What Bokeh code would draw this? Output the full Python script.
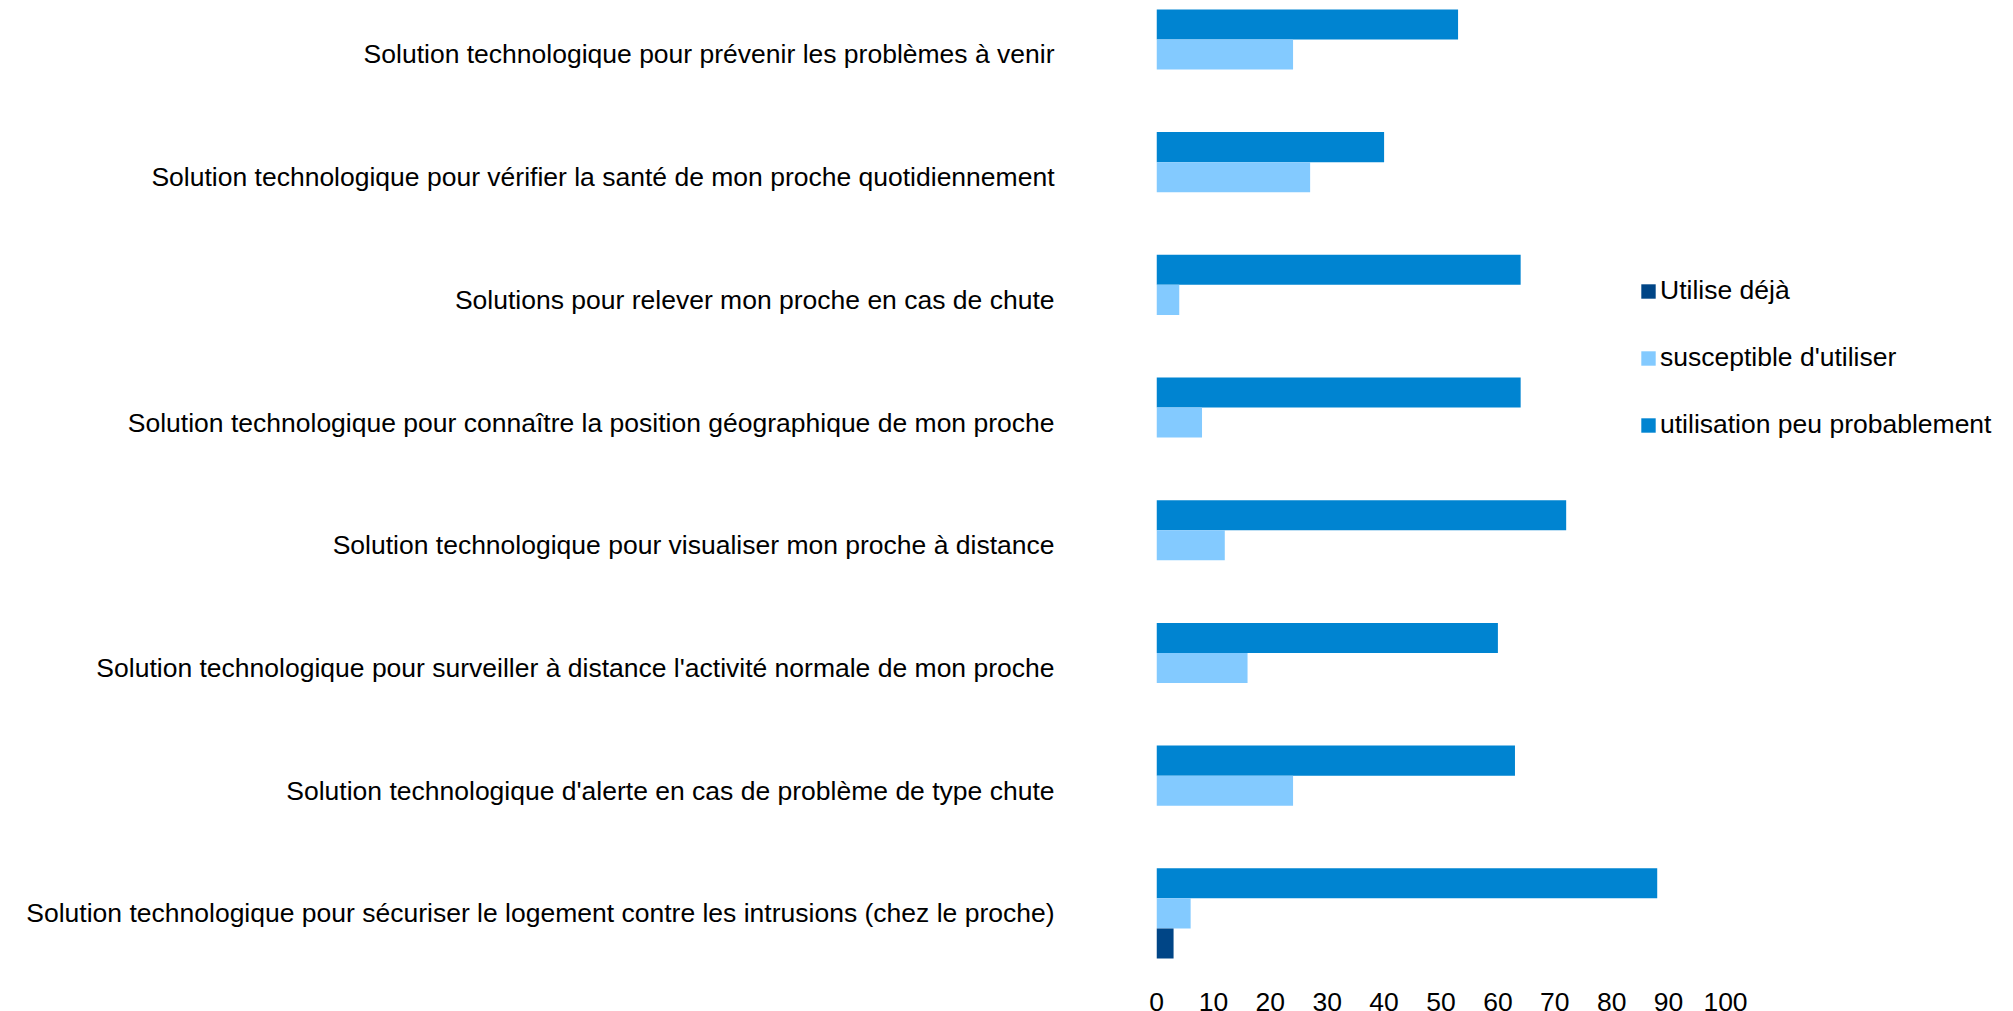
import numpy as np
from bokeh.plotting import figure
from bokeh.models import Range1d, FixedTicker, Legend, LegendItem, ColumnDataSource
from bokeh.transform import dodge
from bokeh.embed import file_html
from bokeh.resources import INLINE

categories = [
    "Solution technologique pour prévenir les problèmes à venir",
    "Solution technologique pour vérifier la santé de mon proche quotidiennement",
    "Solutions pour relever mon proche en cas de chute",
    "Solution technologique pour connaître la position géographique de mon proche",
    "Solution technologique pour visualiser mon proche à distance",
    "Solution technologique pour surveiller à distance l'activité normale de mon proche",
    "Solution technologique d'alerte en cas de problème de type chute",
    "Solution technologique pour sécuriser le logement contre les intrusions (chez le proche)",
]
utilise_deja = [0, 0, 0, 0, 0, 0, 0, 3]
susceptible = [24, 27, 4, 8, 12, 16, 24, 6]
peu_probable = [53, 40, 64, 64, 72, 60, 63, 88]
series_names = ["Utilise déjà", "susceptible d'utiliser", "utilisation peu probablement"]
x_ticks = list(range(0, 101, 10))

colors = ["#004586", "#83CAFF", "#0084D1"]
FONT = "Liberation Sans"
FS = "26.5px"

W = 2005
LEFT = 1156
PX_PER_UNIT = 5.69
BAND_PX = 122.7

pos = list(range(len(categories)))
src = ColumnDataSource(dict(y=pos, deja=utilise_deja, sus=susceptible, peu=peu_probable))

frame_h = 980
frame_w = W - LEFT
y_top = -0.44
y_bot = y_top + frame_h / BAND_PX
x_end = frame_w / PX_PER_UNIT

p = figure(frame_width=frame_w, frame_height=frame_h, output_backend="svg",
           toolbar_location=None,
           x_range=Range1d(0, x_end), y_range=Range1d(y_bot, y_top),
           min_border_left=LEFT, min_border_right=0, min_border_top=0,
           min_border_bottom=0)
p.outline_line_color = None
p.grid.visible = False
p.background_fill_color = "white"
p.border_fill_color = "white"

bh = 0.245
off = 0.0
r_peu = p.hbar(y=dodge("y", off - bh, range=p.y_range), right="peu", left=0, height=bh,
               source=src, fill_color=colors[2], line_color=None)
r_sus = p.hbar(y=dodge("y", off, range=p.y_range), right="sus", left=0, height=bh,
               source=src, fill_color=colors[1], line_color=None)
r_deja = p.hbar(y=dodge("y", off + bh, range=p.y_range), right="deja", left=0, height=bh,
                source=src, fill_color=colors[0], line_color=None)

p.yaxis.ticker = FixedTicker(ticks=pos)
p.yaxis.major_label_overrides = {i: c for i, c in enumerate(categories)}
p.xaxis.ticker = FixedTicker(ticks=x_ticks)
for ax in (p.xaxis, p.yaxis):
    ax.axis_line_color = None
    ax.major_tick_line_color = None
    ax.minor_tick_line_color = None
    ax.major_tick_out = 0
    ax.major_tick_in = 0
    ax.major_label_text_font = FONT
    ax.major_label_text_font_size = FS
    ax.major_label_text_color = "#000000"
p.yaxis.major_label_standoff = 102
p.xaxis.major_label_standoff = 12

legend = Legend(items=[
    LegendItem(label=series_names[0], renderers=[r_deja]),
    LegendItem(label=series_names[1], renderers=[r_sus]),
    LegendItem(label=series_names[2], renderers=[r_peu]),
], location=(483, 540))
legend.border_line_color = None
legend.background_fill_alpha = 0
legend.padding = 0
legend.margin = 0
legend.glyph_width = 18
legend.glyph_height = 18
legend.label_height = 20
legend.spacing = 36
legend.label_standoff = 3
legend.label_text_font = FONT
legend.label_text_font_size = FS
legend.label_text_color = "#000000"
p.add_layout(legend, "center")

open("out.html", "w").write(file_html(p, INLINE))
